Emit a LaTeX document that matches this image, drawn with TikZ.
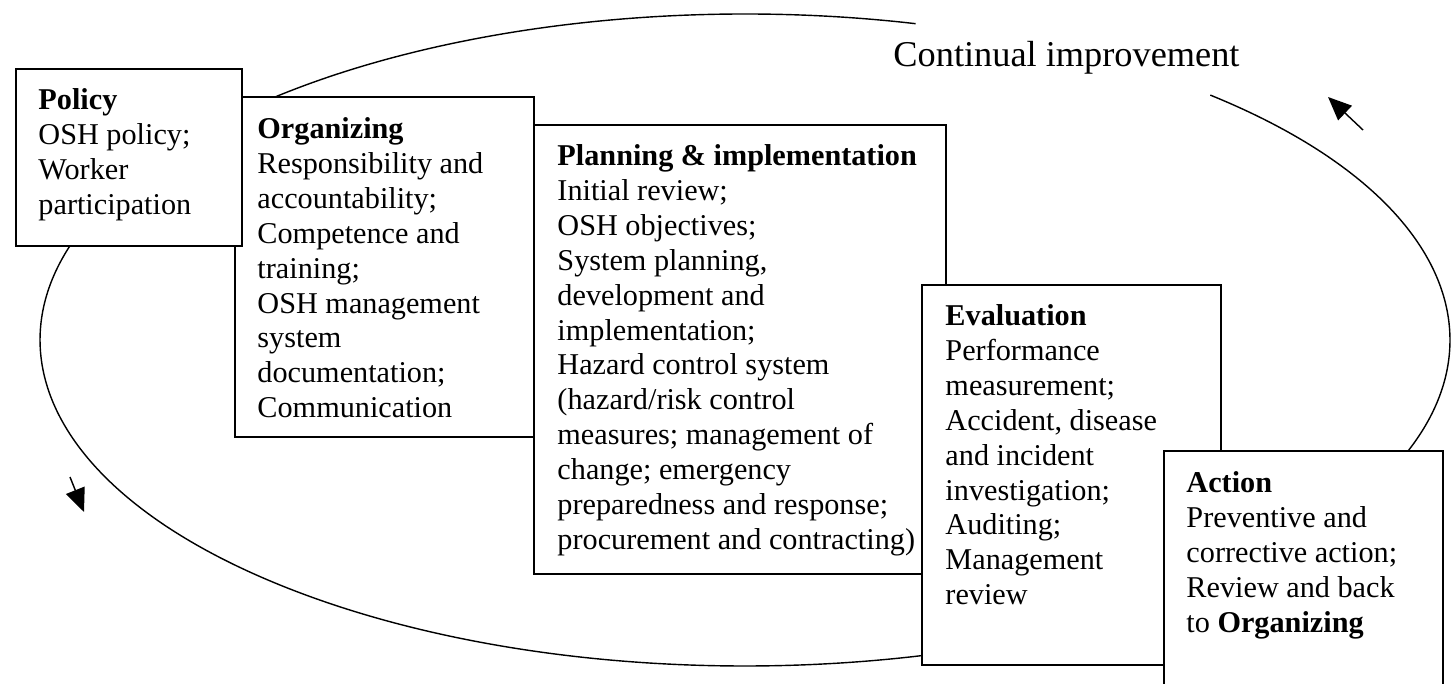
\documentclass[tikz,border=0pt]{standalone}
\usepackage{fontspec}
\setmainfont{Liberation Serif}
\usetikzlibrary{arrows.meta}
\newcommand{\px}{0.015cm}
\tikzset{
	frame/.style={draw, fill=white, line width=0.8pt, anchor=north west, inner sep=0pt},
	txt/.style={anchor=north west, inner sep=0pt, align=left, font=\fontsize{12.9}{14.9}\selectfont},
	cycleline/.style={line width=0.6pt},
	turn/.style={line width=0.6pt, -{Triangle[length=10pt,width=8.5pt]}}
}
\begin{document}
\begin{tikzpicture}[x=\px, y=-\px]
	\useasboundingbox (0,0) rectangle (1451,684);
	% the improvement cycle
	\coordinate (mid) at (745,340);
	\draw[cycleline] (mid) ++(-48.7:705 and 326) arc[start angle=-48.7, end angle=284, x radius=705, y radius=326];
	\node[anchor=west, inner sep=0pt, font=\fontsize{15.5}{18}\selectfont] (ci) at (893,58) {Continual improvement};
	\coordinate (upA) at (1363,130);
	\coordinate (upB) at (1328,97);
	\coordinate (dnA) at (70,477);
	\coordinate (dnB) at (84,512);
	\draw[turn] (upA) -- (upB);
	\draw[turn] (dnA) -- (dnB);
	% boxes
	\node[frame, minimum width=412*\px, minimum height=449*\px] (plan) at (533,124) {};
	\node[txt] (plantxt) at ([shift={(24,20)}]plan.north west) {\textbf{Planning \& implementation}\\Initial review;\\OSH objectives;\\System planning,\\development and\\implementation;\\Hazard control system\\(hazard/risk control\\measures; management of\\change; emergency\\preparedness and response;\\procurement and contracting)};
	\node[frame, minimum width=299*\px, minimum height=340*\px] (org) at (234,96) {};
	\node[txt] (orgtxt) at ([shift={(23,21)}]org.north west) {\textbf{Organizing}\\Responsibility and\\accountability;\\Competence and\\training;\\OSH management\\system\\documentation;\\Communication};
	\node[frame, minimum width=226*\px, minimum height=177*\px] (policy) at (15,68) {};
	\node[txt] (policytxt) at ([shift={(23,20)}]policy.north west) {\textbf{Policy}\\OSH policy;\\Worker\\participation};
	\node[frame, minimum width=299*\px, minimum height=380*\px] (eval) at (921,284) {};
	\node[txt] (evaltxt) at ([shift={(24,20)}]eval.north west) {\textbf{Evaluation}\\Performance\\measurement;\\Accident, disease\\and incident\\investigation;\\Auditing;\\Management\\review};
	\node[frame, minimum width=279*\px, minimum height=260*\px] (act) at (1163,450) {};
	\node[txt] (acttxt) at ([shift={(23,21)}]act.north west) {\textbf{Action}\\Preventive and\\corrective action;\\Review and back\\to \textbf{Organizing}};
\end{tikzpicture}
\end{document}
